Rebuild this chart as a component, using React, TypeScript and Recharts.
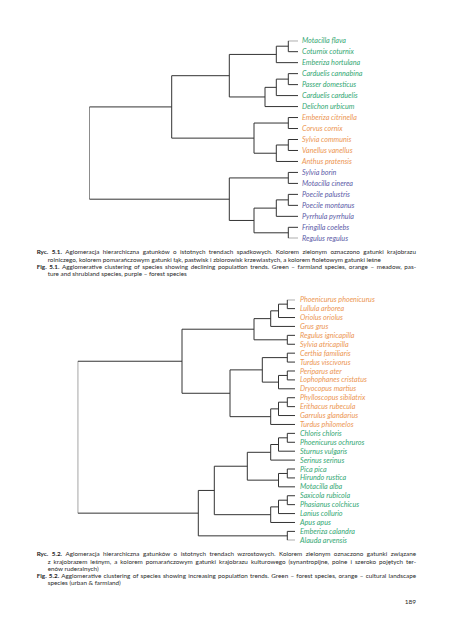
import { LineChart, Line, XAxis, YAxis } from 'recharts'

const GREEN = '#34a874'
const ORANGE = '#ec9653'
const PURPLE = '#5d5ca8'
const LINK = '#333'

// Ryc. 5.1 - species with declining trends (leaf order top -> bottom)
const declineLeaves = [
    'Motacilla flava', 'Coturnix coturnix', 'Emberiza hortulana', 'Carduelis cannabina',
    'Passer domesticus', 'Carduelis carduelis', 'Delichon urbicum', 'Emberiza citrinella',
    'Corvus cornix', 'Sylvia communis', 'Vanellus vanellus', 'Anthus pratensis',
    'Sylvia borin', 'Motacilla cinerea', 'Poecile palustris', 'Poecile montanus',
    'Pyrrhula pyrrhula', 'Fringilla coelebs', 'Regulus regulus'
]
const declineColors = [
    GREEN, GREEN, GREEN, GREEN, GREEN, GREEN, GREEN,
    ORANGE, ORANGE, ORANGE, ORANGE, ORANGE,
    PURPLE, PURPLE, PURPLE, PURPLE, PURPLE, PURPLE, PURPLE
]
// [clusterA, clusterB, distance]; ids >= leaf count are earlier merges
const declineMerges: [number, number, number][] = [
    [0, 1, 9.7], [19, 2, 21.7], [3, 4, 9.7], [21, 5, 21.7], [22, 6, 33],
    [20, 23, 68.7], [7, 8, 9.7], [9, 10, 9.7], [26, 11, 21.7], [25, 27, 44],
    [24, 28, 126.3], [12, 13, 9.7], [14, 15, 9.7], [31, 16, 21.7], [17, 18, 9.7],
    [32, 33, 44], [30, 34, 68.7], [29, 35, 208.7]
]

// Ryc. 5.2 - species with increasing trends
const increaseLeaves = [
    'Phoenicurus phoenicurus', 'Lullula arborea', 'Oriolus oriolus', 'Grus grus',
    'Regulus ignicapilla', 'Sylvia atricapilla', 'Certhia familiaris', 'Turdus viscivorus',
    'Periparus ater', 'Lophophanes cristatus', 'Dryocopus martius', 'Phylloscopus sibilatrix',
    'Erithacus rubecula', 'Garrulus glandarius', 'Turdus philomelos', 'Chloris chloris',
    'Phoenicurus ochruros', 'Sturnus vulgaris', 'Serinus serinus', 'Pica pica',
    'Hirundo rustica', 'Motacilla alba', 'Saxicola rubicola', 'Phasianus colchicus',
    'Lanius collurio', 'Apus apus', 'Emberiza calandra', 'Alauda arvensis'
]
const increaseColors = [
    ORANGE, ORANGE, ORANGE, ORANGE, ORANGE, ORANGE, ORANGE, ORANGE,
    ORANGE, ORANGE, ORANGE, ORANGE, ORANGE, ORANGE, ORANGE,
    GREEN, GREEN, GREEN, GREEN, GREEN, GREEN, GREEN,
    GREEN, GREEN, GREEN, GREEN, GREEN, GREEN
]
const increaseMerges: [number, number, number][] = [
    [0, 1, 7.7], [28, 2, 16.5], [29, 3, 24.3], [4, 5, 7.7], [30, 31, 41],
    [6, 7, 7.7], [8, 9, 7.7], [34, 10, 16.5], [33, 35, 32.7], [11, 12, 7.7],
    [37, 13, 16.5], [38, 14, 24.3], [36, 39, 65], [32, 40, 113], [15, 16, 7.7],
    [42, 17, 16.5], [43, 18, 24.3], [19, 20, 7.7], [45, 21, 16.5], [44, 46, 47.7],
    [22, 23, 7.7], [48, 24, 16.5], [49, 25, 24.3], [47, 50, 80.7], [26, 27, 7.7],
    [51, 52, 96.7], [41, 53, 217.3]
]

// turn the merge list into U-shaped links (position of a cluster = mean of its children)
function buildLinks(n: number, merges: [number, number, number][]) {
    const pos: number[] = []
    const h: number[] = []
    for (let i = 0; i < n; i++) { pos[i] = i; h[i] = 0 }
    return merges.map(([a, b, d], k) => {
        pos[n + k] = (pos[a] + pos[b]) / 2
        h[n + k] = d
        return [
            { x: h[a], y: pos[a] },
            { x: d, y: pos[a] },
            { x: d, y: pos[b] },
            { x: h[b], y: pos[b] }
        ]
    })
}

function Dendrogram({ leaves, colors, merges, top, height, margin, gap }: any) {
    const links = buildLinks(leaves.length, merges)
    const rootH = merges[merges.length - 1][2]
    const LeafTick = (props: any) => {
        const { x, y, payload } = props
        return (
            <text x={x} y={y} dy="0.35em" textAnchor="start" fill={colors[payload.value]}
                fontSize={7.2} fontStyle="italic" fontFamily="Lato, sans-serif">
                {leaves[payload.value]}
            </text>
        )
    }
    return (
        <div style={{ position: 'absolute', left: 0, top }}>
            <LineChart width={453} height={height} margin={margin}>
                <XAxis type="number" dataKey="x" domain={[0, rootH]} reversed hide allowDataOverflow />
                <YAxis
                    type="number"
                    domain={[0, leaves.length - 1]}
                    reversed
                    orientation="right"
                    width={150}
                    ticks={leaves.map((_: string, i: number) => i)}
                    interval={0}
                    axisLine={false}
                    tickLine={false}
                    tickSize={0}
                    tickMargin={gap}
                    tick={LeafTick}
                    allowDataOverflow
                />
                {links.map((seg, i) => (
                    <Line
                        key={i}
                        data={seg}
                        dataKey="y"
                        type="linear"
                        stroke={LINK}
                        strokeWidth={1}
                        dot={false}
                        activeDot={false}
                        isAnimationActive={false}
                    />
                ))}
            </LineChart>
        </div>
    )
}

const captionStyle: any = {
    position: 'absolute',
    fontFamily: 'Lato, sans-serif',
    fontSize: 6.3,
    lineHeight: '7.3px',
    color: '#2a2a2a',
    whiteSpace: 'nowrap'
}

function CapLine({ bold, text, indent, justify }: any) {
    const left = indent ? 47.7 : 36.7
    return (
        <div style={{
            marginLeft: left - 36.7,
            width: 416 - left,
            textAlign: justify ? 'justify' : 'left',
            textAlignLast: justify ? 'justify' : 'left',
            whiteSpace: 'nowrap',
            height: 7.3,
            overflow: 'visible'
        }}>
            {bold && <b style={{ color: '#1e1e1e' }}>{bold}</b>}
            {text}
        </div>
    )
}

export default function App() {
    return (
        <div style={{ position: 'absolute', left: 0, top: 0, width: 453, height: 640, background: '#fff', overflow: 'hidden' }}>
            <Dendrogram
                leaves={declineLeaves}
                colors={declineColors}
                merges={declineMerges}
                top={0}
                height={250}
                margin={{ top: 40.7, bottom: 11.7, left: 89.3, right: 5 }}
                gap={4}
            />
            <div style={{ ...captionStyle, left: 36.7, top: 248.3, width: 380 }}>
                <CapLine bold="Ryc. 5.1." justify text=" Aglomeracja hierarchiczna gatunków o istotnych trendach spadkowych. Kolorem zielonym oznaczono gatunki krajobrazu" />
                <CapLine indent text="rolniczego, kolorem pomarańczowym gatunki łąk, pastwisk i zbiorowisk krzewiastych, a kolorem fioletowym gatunki leśne" />
                <CapLine bold="Fig. 5.1." justify text=" Agglomerative clustering of species showing declining population trends. Green – farmland species, orange – meadow, pas-" />
                <CapLine indent text="ture and shrubland species, purple – forest species" />
            </div>
            <Dendrogram
                leaves={increaseLeaves}
                colors={increaseColors}
                merges={increaseMerges}
                top={280}
                height={275}
                margin={{ top: 19.7, bottom: 14.7, left: 77.7, right: 8 }}
                gap={5}
            />
            <div style={{ ...captionStyle, left: 36.7, top: 550.3, width: 380 }}>
                <CapLine bold="Ryc. 5.2." justify text=" Aglomeracja hierarchiczna gatunków o istotnych trendach wzrostowych. Kolorem zielonym oznaczono gatunki związane" />
                <CapLine indent justify text="z krajobrazem leśnym, a kolorem pomarańczowym gatunki krajobrazu kulturowego (synantropijne, polne i szeroko pojętych ter-" />
                <CapLine indent text="enów ruderalnych)" />
                <CapLine bold="Fig. 5.2." justify text=" Agglomerative clustering of species showing increasing population trends. Green – forest species, orange – cultural landscape" />
                <CapLine indent text="species (urban & farmland)" />
            </div>
            <div style={{ ...captionStyle, left: 396, top: 598, width: 20, textAlign: 'right', fontSize: 6.5 }}>189</div>
        </div>
    )
}
